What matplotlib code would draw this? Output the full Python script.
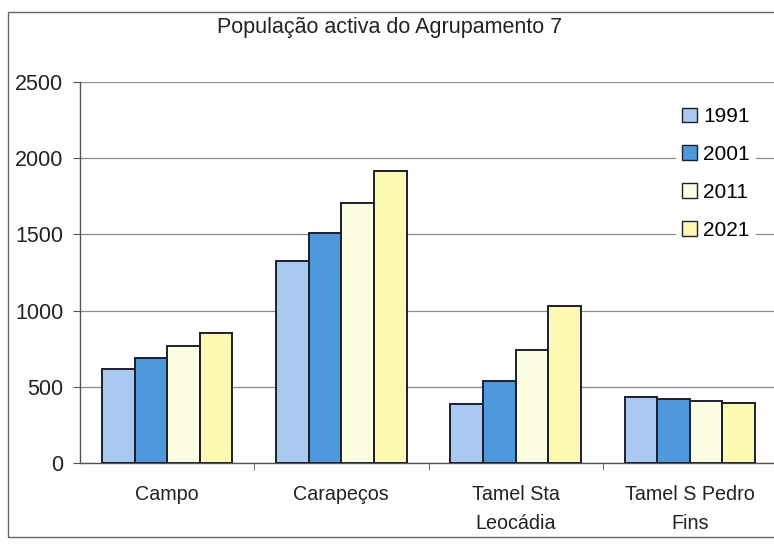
import numpy as np
import matplotlib
matplotlib.use("Agg")
import matplotlib.pyplot as plt
from matplotlib.patches import Rectangle

plt.rcParams['font.family'] = ['Liberation Sans', 'DejaVu Sans']

# data
categories = ['Campo', 'Carapeços', 'Tamel Sta\nLeocádia', 'Tamel S Pedro\nFins']
years = ['1991', '2001', '2011', '2021']
v1991 = [620, 1325, 390, 430]
v2001 = [690, 1510, 535, 420]
v2011 = [765, 1705, 740, 410]
v2021 = [850, 1915, 1030, 395]
yticks = [0, 500, 1000, 1500, 2000, 2500]

colors = ['#a9c9f0', '#4f98dc', '#fdfde2', '#fdf8b2']
series = [v1991, v2001, v2011, v2021]

W, H = 774, 546
fig = plt.figure(figsize=(W / 100, H / 100), dpi=100)
ax = fig.add_axes([80 / W, 1 - 463 / H, 697 / W, (463 - 82) / H])

x = np.arange(len(categories))
bw = 0.187
for i, (vals, col, yr) in enumerate(zip(series, colors, years)):
    ax.bar(x + (i - 1.5) * bw, vals, bw, color=col, edgecolor='#1c1f2e',
           linewidth=1.4, label=yr, zorder=3)

ax.set_xlim(-0.5, 3.5)
ax.set_ylim(0, 2500)
ax.set_yticks(yticks)
ax.set_yticklabels([str(t) for t in yticks], fontsize=15.5, color='#222222')
ax.tick_params(axis='y', length=5, pad=7, color='#555555')
ax.set_xticks(x)
ax.set_xticklabels(categories, fontsize=14.2, color='#222222', linespacing=1.65)
ax.set_xticks([0.5, 1.5, 2.5], minor=True)
ax.tick_params(axis='x', which='major', length=0, pad=16)
ax.tick_params(axis='x', which='minor', length=5, color='#555555')

ax.grid(axis='y', color='#8a8a8a', linewidth=0.9, zorder=0)
for s in ['top', 'right']:
    ax.spines[s].set_visible(False)
for s in ['left', 'bottom']:
    ax.spines[s].set_color('#555555')
    ax.spines[s].set_linewidth(1.0)

leg = ax.legend(loc='upper left', bbox_to_anchor=(676 / W, 1 - 101 / H),
                bbox_transform=fig.transFigure, frameon=True, fontsize=15,
                handlelength=0.7, handleheight=0.7, handletextpad=0.3,
                labelspacing=0.9, borderpad=0.3, borderaxespad=0)
leg.get_frame().set_edgecolor('none')
leg.get_frame().set_facecolor('white')
leg.get_frame().set_alpha(1)
for h in leg.legend_handles:
    h.set_linewidth(1.0)

fig.text(390 / W, 1 - 28 / H, 'População activa do Agrupamento 7',
         ha='center', va='center', fontsize=15.5, color='#222222')

fig.add_artist(Rectangle((8 / W, 1 - 537 / H), 1, (537 - 12) / H,
                         transform=fig.transFigure, fill=False,
                         edgecolor='#666666', linewidth=1.0))

fig.savefig('out.png', dpi=100)
